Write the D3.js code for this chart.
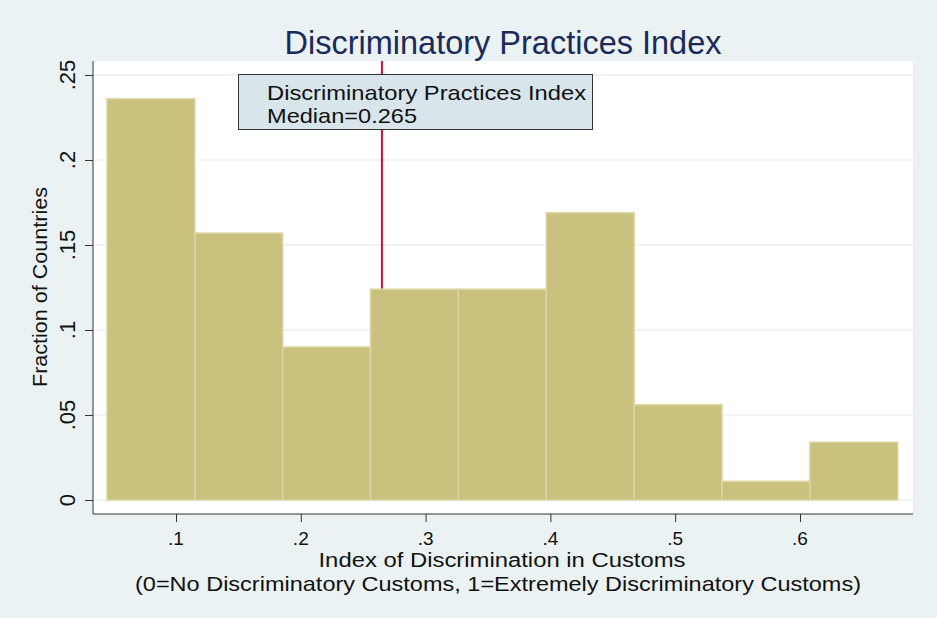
<!DOCTYPE html>
<html>
<head>
    <title>Discriminatory Practices Index</title>
    <script src="https://d3js.org/d3.v7.min.js"></script>
    <style>
        body, html {
            margin: 0;
            padding: 0;
            background: #eaf2f3;
        }
        svg text {
            font-family: 'Liberation Sans', Arial, Helvetica, sans-serif;
        }
    </style>
</head>
<body>
<script>
    // histogram bins (edges) and fraction of countries per bin
    const binEdges = [0.0447, 0.1151, 0.1855, 0.2559, 0.3263, 0.3967, 0.4671, 0.5375, 0.6079, 0.6783];
    const fractions = [0.236, 0.157, 0.090, 0.124, 0.124, 0.169, 0.056, 0.011, 0.034];
    const median = 0.265;

    const xTicks = [0.1, 0.2, 0.3, 0.4, 0.5, 0.6];
    const xTickLabels = [".1", ".2", ".3", ".4", ".5", ".6"];
    const yTicks = [0, 0.05, 0.1, 0.15, 0.2, 0.25];
    const yTickLabels = ["0", ".05", ".1", ".15", ".2", ".25"];

    const title = "Discriminatory Practices Index";
    const legendLines = ["Discriminatory Practices Index", "Median=0.265"];
    const xTitle = ["Index of Discrimination in Customs",
                    "(0=No Discriminatory Customs, 1=Extremely Discriminatory Customs)"];
    const yTitle = "Fraction of Countries";

    const width = 937, height = 618;
    const plot = {left: 93, right: 913, top: 61, bottom: 514};

    const x = d3.scaleLinear().domain([0.1, 0.6]).range([176, 800]);
    const y = d3.scaleLinear().domain([0, 0.25]).range([500, 75]);

    const svg = d3.create("svg")
        .attr("width", width)
        .attr("height", height)
        .attr("viewBox", [0, 0, width, height]);

    // graph region + plot region
    svg.append("rect").attr("width", width).attr("height", height).attr("fill", "#eaf2f3");
    svg.append("rect")
        .attr("x", plot.left).attr("y", plot.top)
        .attr("width", plot.right - plot.left).attr("height", plot.bottom - plot.top)
        .attr("fill", "#ffffff");

    // gridlines
    svg.append("g")
        .selectAll("line")
        .data(yTicks)
        .join("line")
            .attr("x1", plot.left).attr("x2", plot.right)
            .attr("y1", d => y(d)).attr("y2", d => y(d))
            .attr("stroke", "#eaf2f3")
            .attr("stroke-width", 1.5);

    // median line (behind the bars)
    svg.append("line")
        .attr("x1", x(median)).attr("x2", x(median))
        .attr("y1", plot.top).attr("y2", y(0))
        .attr("stroke", "#c8103e")
        .attr("stroke-width", 2);

    // bars
    svg.append("g")
        .selectAll("rect")
        .data(fractions)
        .join("rect")
            .attr("x", (d, i) => x(binEdges[i]))
            .attr("width", (d, i) => x(binEdges[i + 1]) - x(binEdges[i]))
            .attr("y", d => y(d))
            .attr("height", d => y(0) - y(d))
            .attr("fill", "#cac17e")
            .attr("stroke", "#dbd6a4")
            .attr("stroke-width", 1.5);

    // axes
    const yAxis = svg.append("g")
        .attr("transform", `translate(${plot.left},0)`)
        .call(d3.axisLeft(y).tickValues(yTicks).tickSize(8).tickFormat(""));
    yAxis.select(".domain").attr("d", `M0,${plot.top}V${plot.bottom}`).attr("stroke", "#333");
    yAxis.selectAll(".tick line").attr("stroke", "#333");

    const xAxis = svg.append("g")
        .attr("transform", `translate(0,${plot.bottom})`)
        .call(d3.axisBottom(x).tickValues(xTicks).tickSize(8).tickFormat(""));
    xAxis.select(".domain").attr("d", `M${plot.left},0H${plot.right}`).attr("stroke", "#333");
    xAxis.selectAll(".tick line").attr("stroke", "#333");

    // tick labels (y labels are vertical, Stata style)
    svg.append("g")
        .selectAll("text")
        .data(yTicks)
        .join("text")
            .attr("transform", d => `translate(75,${y(d)}) rotate(-90)`)
            .attr("text-anchor", "middle")
            .style("font-size", "22px")
            .attr("fill", "#111")
            .text((d, i) => yTickLabels[i]);

    svg.append("g")
        .selectAll("text")
        .data(xTicks)
        .join("text")
            .attr("x", d => x(d))
            .attr("y", 545)
            .attr("text-anchor", "middle")
            .style("font-size", "19px")
            .attr("fill", "#111")
            .text((d, i) => xTickLabels[i]);

    // axis titles
    svg.append("text")
        .attr("transform", "translate(47,287) rotate(-90)")
        .attr("text-anchor", "middle")
        .style("font-size", "21px")
        .attr("textLength", 200)
        .attr("lengthAdjust", "spacingAndGlyphs")
        .attr("fill", "#111")
        .text(yTitle);

    svg.append("text")
        .attr("x", 502).attr("y", 567)
        .attr("text-anchor", "middle")
        .style("font-size", "20px")
        .attr("textLength", 367)
        .attr("lengthAdjust", "spacingAndGlyphs")
        .attr("fill", "#111")
        .text(xTitle[0]);

    svg.append("text")
        .attr("x", 498).attr("y", 591)
        .attr("text-anchor", "middle")
        .style("font-size", "21px")
        .attr("textLength", 726)
        .attr("lengthAdjust", "spacingAndGlyphs")
        .attr("fill", "#111")
        .text(xTitle[1]);

    // title
    svg.append("text")
        .attr("x", 503).attr("y", 54)
        .attr("text-anchor", "middle")
        .style("font-size", "32.5px")
        .attr("fill", "#1c2a5b")
        .text(title);

    // legend box
    svg.append("rect")
        .attr("x", 238.5).attr("y", 74.5)
        .attr("width", 354).attr("height", 55)
        .attr("fill", "#d8e5eb")
        .attr("stroke", "#333")
        .attr("stroke-width", 1);

    const legendWidths = [319, 150];
    svg.append("g")
        .selectAll("text")
        .data(legendLines)
        .join("text")
            .attr("x", 267)
            .attr("y", (d, i) => 99.5 + i * 23.5)
            .style("font-size", "21px")
            .attr("textLength", (d, i) => legendWidths[i])
            .attr("lengthAdjust", "spacingAndGlyphs")
            .attr("fill", "#111")
            .text(d => d);

    document.body.appendChild(svg.node());
</script>
</body>
</html>
